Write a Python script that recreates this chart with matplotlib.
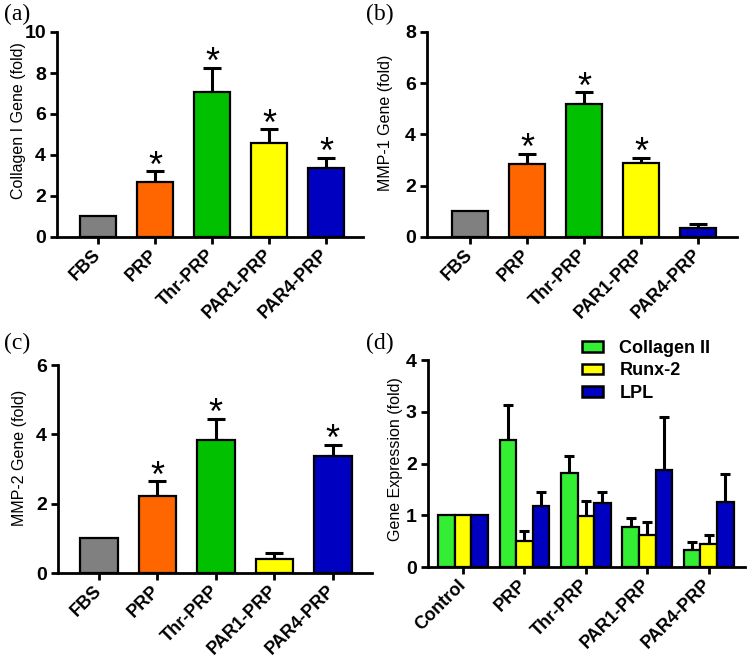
import matplotlib
matplotlib.use('Agg')
import matplotlib.pyplot as plt
from matplotlib.patches import Patch
import numpy as np

plt.rcParams['font.family'] = ['Liberation Sans', 'DejaVu Sans']

# ---- data ----
groups = ['FBS', 'PRP', 'Thr-PRP', 'PAR1-PRP', 'PAR4-PRP']
bar_colors = ['#808080', '#FF6600', '#00C000', '#FFFF00', '#0000C0']

col1 = [1.0, 2.7, 7.05, 4.6, 3.35]
col1_err = [0, 0.5, 1.19, 0.65, 0.52]
col1_sig = [False, True, True, True, True]

mmp1 = [1.0, 2.85, 5.2, 2.87, 0.35]
mmp1_err = [0, 0.39, 0.45, 0.23, 0.17]
mmp1_sig = [False, True, True, True, False]

mmp2 = [1.0, 2.22, 3.84, 0.4, 3.38]
mmp2_err = [0, 0.42, 0.61, 0.19, 0.31]
mmp2_sig = [False, True, True, False, True]

groups_d = ['Control', 'PRP', 'Thr-PRP', 'PAR1-PRP', 'PAR4-PRP']
genes = ['Collagen II', 'Runx-2', 'LPL']
gene_colors = ['#33EE33', '#FFFF00', '#0000C0']
col2 = [1.0, 2.46, 1.81, 0.77, 0.33]
col2_err = [0, 0.68, 0.33, 0.18, 0.15]
runx2 = [1.0, 0.5, 0.99, 0.61, 0.44]
runx2_err = [0, 0.19, 0.29, 0.25, 0.17]
lpl = [1.0, 1.18, 1.23, 1.88, 1.26]
lpl_err = [0, 0.26, 0.22, 1.02, 0.53]

W, H = 750, 661
fig = plt.figure(figsize=(W / 100, H / 100), dpi=100)


def px_axes(x0, x1, ytop, ybot):
    return fig.add_axes([x0 / W, 1 - ybot / H, (x1 - x0) / W, (ybot - ytop) / H])


def style(ax, ymax, ystep, labels, ylabel, xlim, lab_xy):
    for s in ['top', 'right']:
        ax.spines[s].set_visible(False)
    for s in ['left', 'bottom']:
        ax.spines[s].set_linewidth(2.0)
    ax.set_ylim(0, ymax)
    ax.set_xlim(*xlim)
    ax.set_yticks(np.arange(0, ymax + 0.01, ystep))
    ax.set_xticks(range(len(labels)))
    ax.set_xticklabels(labels, rotation=45, ha='right', va='center',
                       rotation_mode='anchor', fontweight='bold', fontsize=13)
    ax.tick_params(axis='x', direction='out', length=5, width=2.0, pad=6)
    ax.tick_params(axis='y', direction='out', length=5, width=2.0, pad=3)
    for t in ax.get_yticklabels():
        t.set_fontweight('bold')
        t.set_fontsize(14)
    ax.set_ylabel(ylabel, fontsize=11.5)
    ax.yaxis.set_label_coords(*lab_xy)


def single(ax, vals, errs, sig, ymax, ystep, ylabel, xlim, lab_xy):
    x = np.arange(len(vals))
    ax.bar(x, vals, width=0.64, color=bar_colors, edgecolor='black',
           linewidth=1.6, zorder=3)
    for xi, v, e, s in zip(x, vals, errs, sig):
        if e > 0:
            ax.errorbar(xi, v, yerr=[[0], [e]], fmt='none', ecolor='black',
                        elinewidth=2.2, capsize=6.5, capthick=2.2, zorder=2)
        if s:
            ax.annotate('*', (xi, v + e), xytext=(0, 3), textcoords='offset points',
                        ha='center', va='center', fontsize=26)
    style(ax, ymax, ystep, groups, ylabel, xlim, lab_xy)


ax_a = px_axes(57, 363, 32, 237)
single(ax_a, col1, col1_err, col1_sig, 10, 2, 'Collagen I Gene (fold)',
       (-0.72, 4.65), (-0.1, 0.57))

ax_b = px_axes(427, 737, 32, 237)
single(ax_b, mmp1, mmp1_err, mmp1_sig, 8, 2, 'MMP-1 Gene (fold)',
       (-0.75, 4.68), (-0.11, 0.556))

ax_c = px_axes(58, 372, 365, 573)
single(ax_c, mmp2, mmp2_err, mmp2_sig, 6, 2, 'MMP-2 Gene (fold)',
       (-0.7, 4.67), (-0.099, 0.552))

# ---- panel (d): grouped bars ----
ax_d = px_axes(428, 745, 360, 567)
x = np.arange(len(groups_d))
bw = 0.27
series = [(col2, col2_err), (runx2, runx2_err), (lpl, lpl_err)]
for i, ((vals, errs), c) in enumerate(zip(series, gene_colors)):
    xs = x + (i - 1) * bw
    ax_d.bar(xs, vals, width=bw, color=c, edgecolor='black', linewidth=1.6,
             zorder=3, label=genes[i])
    for xi, v, e in zip(xs, vals, errs):
        if e > 0:
            ax_d.errorbar(xi, v, yerr=[[0], [e]], fmt='none', ecolor='black',
                          elinewidth=2.2, capsize=3.5, capthick=2.2, zorder=2)
style(ax_d, 4, 1, groups_d, 'Gene Expression (fold)', (-0.57, 4.59), (-0.079, 0.52))

handles = [Patch(facecolor=c, edgecolor='black', linewidth=1.8) for c in gene_colors]
ax_d.legend(handles, genes, loc='upper left',
            bbox_to_anchor=((566 - 428) / (745 - 428), 1.175),
            frameon=False, prop={'weight': 'bold', 'size': 13},
            handlelength=1.15, handleheight=0.5, handletextpad=0.9, labelspacing=0.3)

# panel letters
for lab, (px, py) in zip(['(a)', '(b)', '(c)', '(d)'],
                         [(4, 4), (366, 4), (4, 333), (366, 333)]):
    fig.text(px / W, 1 - py / H, lab, ha='left', va='top',
             fontsize=17, family='Liberation Serif')

fig.savefig('out.png', dpi=100)
